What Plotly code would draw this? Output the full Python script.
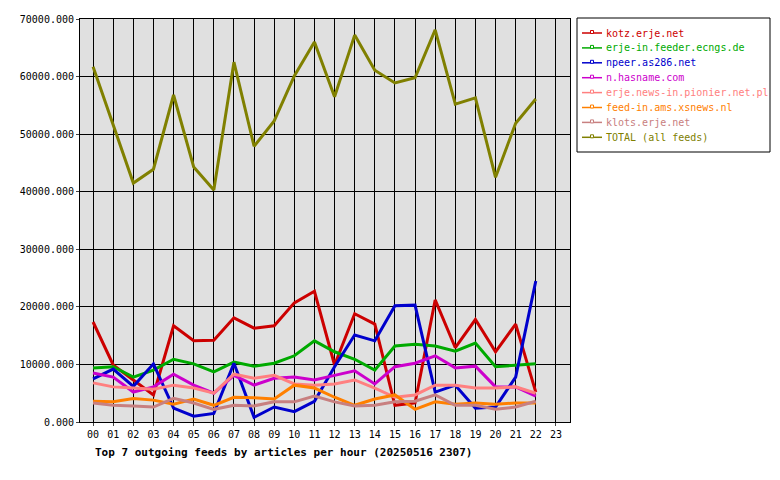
import plotly.graph_objects as go

hours = ["%02d" % i for i in range(24)]
names = ["kotz.erje.net", "erje-in.feeder.ecngs.de", "npeer.as286.net", "n.hasname.com",
         "erje.news-in.pionier.net.pl", "feed-in.ams.xsnews.nl", "klots.erje.net", "TOTAL (all feeds)"]
colors = ["#cc0000", "#00aa00", "#0000cc", "#cc00cc", "#ff8080", "#ff8000", "#c88080", "#808000"]

kotz = [17370, 9900, 7300, 4700, 16700, 14100, 14200, 18100, 16300, 16700, 20700, 22700, 9900, 18800, 17000, 2900, 3300, 21200, 12900, 17800, 12200, 17000, 5200]
ecngs = [9400, 9600, 7800, 9000, 10900, 10100, 8700, 10400, 9700, 10200, 11500, 14100, 12200, 10900, 9000, 13200, 13500, 13200, 12300, 13700, 9600, 9900, 10100]
as286 = [7500, 9200, 6200, 10100, 2400, 1000, 1500, 10200, 800, 2600, 1800, 3600, 9600, 15100, 14100, 20200, 20300, 5200, 6400, 2400, 2600, 7800, 24500]
hasname = [8500, 7800, 5200, 6100, 8300, 6400, 5000, 8100, 6400, 7600, 7800, 7300, 8100, 8900, 6600, 9600, 10200, 11500, 9400, 9700, 6100, 6100, 4500]
pionier = [6800, 6100, 5900, 5700, 6400, 5900, 5000, 8300, 7600, 8100, 6600, 6400, 6600, 7300, 5900, 4300, 4700, 6400, 6400, 5900, 5900, 6100, 5000]
xsnews = [3600, 3500, 4100, 3800, 3100, 4000, 2900, 4300, 4200, 4000, 6400, 5900, 4300, 2900, 4000, 4700, 2200, 3500, 3100, 3300, 3100, 3300, 3300]
klots = [3300, 2900, 2800, 2600, 4100, 3300, 2200, 2900, 2800, 3500, 3500, 4500, 3500, 2800, 2900, 3500, 3600, 4700, 2900, 2900, 2200, 2600, 3600]
total = [61700, 51400, 41500, 43900, 56800, 44300, 40300, 62500, 47900, 52300, 60100, 66000, 56500, 67200, 61100, 58900, 59800, 68100, 55200, 56300, 42500, 51900, 56100]

series = [kotz, ecngs, as286, hasname, pionier, xsnews, klots, total]
font = "DejaVu Sans Mono"

W, H, L, R, T, B = 772, 472, 72, 210, 11, 58
PW, PH = W - L - R, H - T - B
def px(x): return (x - L) / PW
def py(y): return (H - B - y) / PH

fig = go.Figure()
for n, c, s in zip(names, colors, series):
    fig.add_trace(go.Scatter(x=list(range(len(s))), y=s, mode="lines", name=n,
                             line=dict(color=c, width=3), showlegend=False))

shapes = [dict(type="rect", xref="paper", yref="paper", x0=px(569), x1=px(762), y0=py(144), y1=py(10),
               line=dict(color="black", width=1), fillcolor="white")]
annotations = []
for i, (n, c) in enumerate(zip(names, colors)):
    yy = 25 + i * 14.9
    shapes.append(dict(type="line", xref="paper", yref="paper", x0=px(574), x1=px(594),
                       y0=py(yy), y1=py(yy), line=dict(color=c, width=1.5)))
    shapes.append(dict(type="rect", xref="paper", yref="paper", x0=px(582.5), x1=px(585.5),
                       y0=py(yy + 0.5), y1=py(yy - 2.5), line=dict(color=c, width=1), fillcolor="white"))
    annotations.append(dict(text=n, xref="paper", yref="paper", x=px(596), y=py(yy),
                            xanchor="left", yanchor="middle", showarrow=False,
                            font=dict(family=font, size=10, color=c)))
annotations.append(dict(text="<b>Top 7 outgoing feeds by articles per hour (20250516 2307)</b>",
                        xref="paper", yref="paper", x=px(85), y=py(444), xanchor="left", yanchor="middle",
                        showarrow=False, font=dict(family=font, size=11)))

fig.update_layout(
    width=W, height=H, paper_bgcolor="white", plot_bgcolor="#e0e0e0",
    margin=dict(l=L, r=R, t=T, b=B, autoexpand=False),
    font=dict(family=font, size=10, color="black"),
    showlegend=False,
    xaxis=dict(range=[-0.65, 23.7], tickmode="array", tickvals=list(range(24)), ticktext=hours,
               showgrid=True, gridcolor="black", gridwidth=1, showline=True, linecolor="black",
               mirror=True, zeroline=False, ticks="outside", ticklen=3, automargin=False),
    yaxis=dict(range=[0, 70000], dtick=10000, tickformat=".3f", showgrid=True, gridcolor="black",
               gridwidth=1, showline=True, linecolor="black", mirror=True, zeroline=False,
               ticks="outside", ticklen=3, automargin=False),
    shapes=shapes, annotations=annotations,
)
fig.write_html("out.html")
